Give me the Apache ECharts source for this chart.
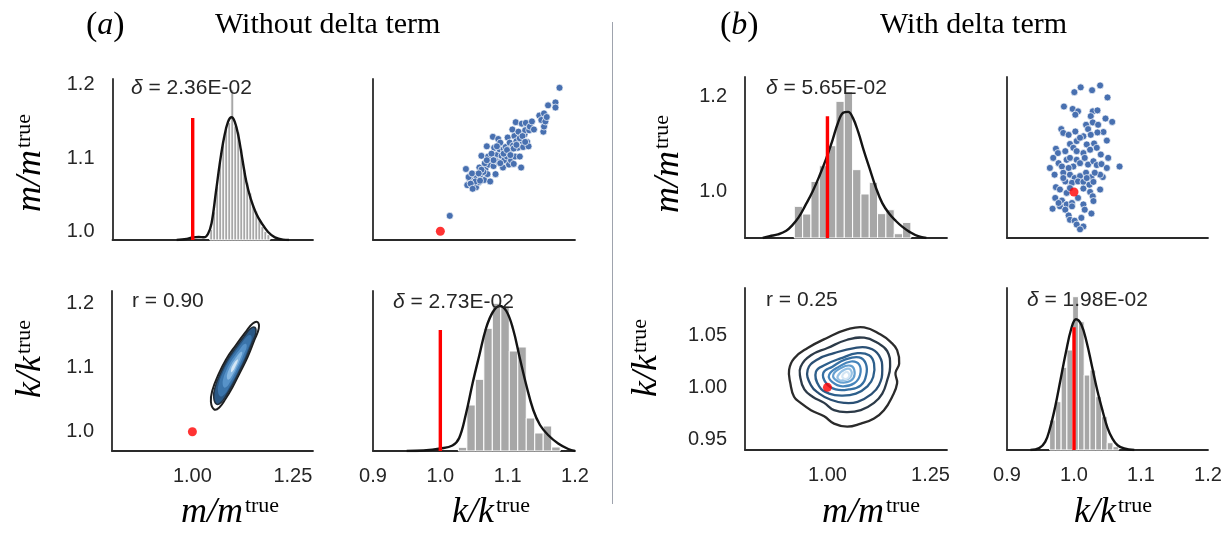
<!DOCTYPE html>
<html><head><meta charset="utf-8">
<script src="https://cdn.jsdelivr.net/npm/echarts@6/dist/echarts.min.js"></script>
<style>html,body{margin:0;padding:0;background:#fff}#c{width:1230px;height:536px}</style>
</head><body><div id="c"></div>
<script>
// ===================== DATA =====================
// tick labels
const ticksM_A = [1.0, 1.1, 1.2];
const ticksK_A = [1.0, 1.1, 1.2];
const ticksM_B = [1.0, 1.2];
const ticksK_B = [0.95, 1.0, 1.05];
const ticksMx = [1.0, 1.25];
const ticksKx = [0.9, 1.0, 1.1, 1.2];
const trueValue = [1.0, 1.0];

// annotation values
const statsA = ['2.36E-02', '0.90', '2.73E-02'];
const statsB = ['5.65E-02', '0.25', '1.98E-02'];

// ---- (a) without delta term ----
const aHistMWidth = 0.0075;
const aHistMCenters = [1.04625,1.05375,1.06125,1.06875,1.07625,1.08375,1.09125,1.09875,1.10625,1.11375,1.12125,1.12875,1.13625,1.14375,1.15125,1.15875,1.16625,1.17375,1.18125,1.18875];
const aHistMDens = [1.6,4.2,8.0,11.5,14.6,16.8,17.5,22.4,17.0,16.1,13.6,10.5,8.6,7.0,5.2,4.3,3.0,2.0,1.3,0.8];
const aKdeM = [[0.96,0],[0.985,0.15],[1.0,0.4],[1.015,0.45],[1.028,0.4],[1.038,0.9],[1.047,2.5],[1.058,7.2],[1.068,11.6],[1.078,15.2],[1.088,17.6],[1.097,18.3],[1.105,17.6],[1.114,15.5],[1.124,12.0],[1.134,8.6],[1.145,6.1],[1.158,4.0],[1.172,2.5],[1.188,1.2],[1.205,0.4],[1.225,0.05],[1.24,0]];
const aRedM = 18.2;

const aHistKWidth = 0.0126;
const aHistKCenters = [1.0331,1.0457,1.0583,1.0709,1.0835,1.0961,1.1087,1.1213,1.1339,1.1465,1.1591,1.1717];
const aHistKDens = [0.37,4.6,7.17,12.27,14.77,14.5,10.0,10.4,3.3,1.8,2.5,0.4];
const aKdeK = [[0.95,0],[0.975,0.05],[1.0,0.25],[1.018,0.55],[1.028,1.3],[1.038,3.7],[1.048,6.8],[1.058,9.6],[1.068,12.3],[1.078,13.9],[1.088,14.5],[1.098,14.0],[1.108,12.2],[1.118,9.3],[1.128,6.5],[1.138,4.1],[1.148,2.6],[1.16,1.6],[1.175,0.75],[1.19,0.2],[1.2,0]];
const aRedK = 12.1;

// scatter: [k, m]
const aScatter = [[1.014,1.021],[1.038,1.085],[1.040,1.063],[1.043,1.072],[1.047,1.073],[1.050,1.078],[1.053,1.060],[1.054,1.073],[1.057,1.067],[1.058,1.087],[1.061,1.103],[1.065,1.070],[1.067,1.085],[1.069,1.116],[1.070,1.078],[1.072,1.091],[1.074,1.068],[1.075,1.099],[1.078,1.129],[1.079,1.089],[1.080,1.114],[1.082,1.078],[1.084,1.104],[1.085,1.095],[1.086,1.126],[1.088,1.112],[1.089,1.121],[1.091,1.103],[1.093,1.087],[1.094,1.112],[1.095,1.097],[1.097,1.115],[1.099,1.102],[1.100,1.128],[1.102,1.091],[1.103,1.121],[1.104,1.111],[1.105,1.097],[1.107,1.139],[1.108,1.117],[1.109,1.092],[1.110,1.130],[1.111,1.102],[1.112,1.149],[1.113,1.123],[1.115,1.114],[1.116,1.136],[1.118,1.102],[1.120,1.087],[1.121,1.147],[1.122,1.123],[1.123,1.115],[1.125,1.132],[1.126,1.138],[1.127,1.148],[1.129,1.122],[1.131,1.116],[1.132,1.138],[1.133,1.143],[1.136,1.150],[1.139,1.139],[1.147,1.158],[1.150,1.152],[1.153,1.136],[1.154,1.143],[1.154,1.161],[1.156,1.150],[1.158,1.156],[1.160,1.172],[1.171,1.176],[1.171,1.169],[1.177,1.196],[1.042,1.074],[1.047,1.079],[1.059,1.077],[1.064,1.081],[1.066,1.093],[1.071,1.102],[1.076,1.106],[1.081,1.097],[1.089,1.093],[1.094,1.106],[1.099,1.111],[1.104,1.104],[1.109,1.113],[1.113,1.118],[1.118,1.127],[1.122,1.130],[1.126,1.122],[1.084,1.116],[1.079,1.097],[1.069,1.097],[1.061,1.084],[1.057,1.079],[1.052,1.068],[1.045,1.065],[1.048,1.058],[1.059,1.069]];

// KDE contour vertices [m, k], outer to inner
const aContourOuter = [[1.054,1.035],[1.046,1.047],[1.050,1.065],[1.0625,1.086],[1.083,1.112],[1.108,1.135],[1.133,1.156],[1.150,1.169],[1.1625,1.171],[1.165,1.161],[1.154,1.143],[1.1375,1.117],[1.117,1.091],[1.100,1.070],[1.083,1.052],[1.067,1.038]];
const aContourL1 = [[1.060,1.043],[1.053,1.054],[1.0565,1.0696],[1.0675,1.088],[1.0856,1.1109],[1.1076,1.1312],[1.1296,1.1496],[1.1445,1.1611],[1.1555,1.1628],[1.1577,1.1540],[1.1481,1.1382],[1.1335,1.1153],[1.1155,1.0924],[1.1005,1.074],[1.0856,1.0581],[1.0715,1.0458]];
const aContourL2 = [[1.0691,1.0554],[1.0635,1.0638],[1.0663,1.0764],[1.0751,1.0911],[1.0894,1.1093],[1.1070,1.1254],[1.1245,1.1401],[1.1364,1.1492],[1.1451,1.1506],[1.1469,1.1436],[1.1392,1.131],[1.1276,1.1128],[1.1133,1.0946],[1.1014,1.0799],[1.0894,1.0673],[1.0783,1.0575]];
const aContourL3 = [[1.0793,1.069],[1.0753,1.075],[1.0773,1.084],[1.0835,1.0945],[1.0938,1.1075],[1.1063,1.119],[1.1188,1.1295],[1.1273,1.136],[1.1335,1.137],[1.1348,1.132],[1.1293,1.123],[1.121,1.110],[1.1108,1.097],[1.1023,1.0865],[1.0938,1.0775],[1.0858,1.0705]];
const aContourL4 = [[1.0883,1.0812],[1.0858,1.0851],[1.0871,1.0908],[1.091,1.0976],[1.0976,1.1059],[1.1056,1.1132],[1.1136,1.12],[1.1191,1.1241],[1.1231,1.1248],[1.1239,1.1216],[1.1203,1.1158],[1.1151,1.1075],[1.1085,1.0992],[1.1031,1.0924],[1.0976,1.0867],[1.0925,1.0822]];
const aContourL5 = [[1.097,1.0928],[1.0963,1.0973],[1.1013,1.1044],[1.1088,1.111],[1.1132,1.1132],[1.1119,1.109],[1.1064,1.1012],[1.1013,1.0954]];

// ---- (b) with delta term ----
const bHistMWidth = 0.0202;
const bHistMCenters = [0.9297,0.9499,0.9701,0.9903,1.0105,1.0307,1.0509,1.0711,1.0913,1.1115,1.1317,1.1519,1.1721,1.1923];
const bHistMDens = [1.77,1.34,3.16,4.04,5.16,7.64,8.19,3.82,2.46,3.11,1.36,1.58,0.24,0.87];
const bKdeM = [[0.843,0],[0.86,0.1],[0.88,0.2],[0.9,0.4],[0.915,0.72],[0.93,1.15],[0.947,1.85],[0.964,2.6],[0.98,3.44],[0.996,4.38],[1.012,5.45],[1.025,6.4],[1.038,7.0],[1.05,7.05],[1.062,6.7],[1.075,5.9],[1.088,4.9],[1.102,3.9],[1.117,2.85],[1.133,1.95],[1.15,1.35],[1.166,0.95],[1.182,0.62],[1.2,0.33],[1.22,0.1],[1.24,0]];
const bRedM = 6.8;

const bHistKWidth = 0.0086;
const bHistKCenters = [0.9679,0.9765,0.9851,0.9937,1.0023,1.0109,1.0195,1.0281,1.0367,1.0453,1.0539,1.0625];
const bHistKDens = [4.07,6.56,11.23,13.58,20.82,17.42,10.18,10.86,7.24,4.52,0.99,0.45];
const bKdeK = [[0.935,0],[0.948,0.25],[0.957,1.1],[0.964,2.9],[0.972,5.9],[0.98,9.6],[0.988,13.3],[0.996,16.5],[1.003,17.75],[1.011,17.0],[1.019,14.6],[1.027,11.3],[1.035,8.0],[1.043,5.2],[1.05,3.0],[1.057,1.6],[1.065,0.65],[1.075,0.2],[1.09,0]];
const bRedK = 16.66;

const bScatter = [[1.0005,1.208],[1.010,1.218],[1.027,1.212],[1.039,1.222],[1.050,1.197],[0.985,1.178],[0.998,1.173],[1.006,1.168],[1.002,1.161],[1.028,1.168],[1.035,1.170],[1.025,1.158],[1.018,1.140],[1.028,1.145],[1.036,1.140],[1.047,1.153],[1.057,1.146],[0.981,1.131],[0.984,1.123],[1.002,1.126],[1.021,1.131],[1.044,1.125],[1.035,1.124],[0.992,1.119],[1.014,1.116],[1.025,1.119],[1.049,1.107],[0.973,1.090],[0.976,1.081],[0.994,1.100],[1.004,1.106],[1.009,1.113],[1.019,1.099],[1.030,1.101],[0.987,1.085],[0.999,1.092],[1.014,1.081],[1.024,1.088],[1.034,1.092],[1.040,1.078],[1.051,1.071],[1.068,1.053],[0.969,1.071],[0.964,1.050],[0.971,1.036],[0.977,1.060],[0.982,1.053],[0.989,1.067],[0.994,1.071],[1.004,1.067],[1.009,1.060],[1.016,1.071],[1.021,1.057],[1.029,1.064],[1.034,1.056],[1.041,1.058],[1.049,1.050],[1.043,1.031],[1.039,1.036],[0.984,1.040],[0.994,1.036],[1.001,1.029],[1.009,1.033],[1.018,1.040],[1.026,1.031],[1.031,1.040],[0.987,1.022],[0.997,1.019],[1.006,1.022],[1.014,1.021],[1.023,1.015],[1.029,1.021],[1.039,1.005],[0.973,1.010],[0.979,1.005],[0.989,0.998],[0.994,1.008],[1.014,1.007],[1.024,1.000],[1.028,0.991],[0.972,0.9875],[0.982,0.982],[0.989,0.974],[0.997,0.977],[1.006,0.9875],[1.014,0.974],[1.029,0.981],[0.968,0.965],[0.979,0.970],[0.987,0.963],[0.997,0.970],[1.016,0.963],[1.026,0.955],[0.992,0.951],[0.994,0.942],[1.001,0.940],[1.011,0.946],[1.004,0.932],[1.014,0.928],[1.009,0.922],[0.977,0.977],[0.984,1.029],[0.999,1.053],[1.004,1.085],[0.992,1.050],[1.019,1.029]];

const bContour1 = [[0.907,1.017],[0.919,1.028],[0.952,1.038],[1.000,1.048],[1.048,1.056],[1.089,1.058],[1.129,1.051],[1.153,1.044],[1.169,1.036],[1.174,1.023],[1.165,1.014],[1.169,1.004],[1.157,0.991],[1.137,0.978],[1.113,0.970],[1.081,0.965],[1.048,0.962],[1.016,0.965],[0.992,0.972],[0.960,0.978],[0.935,0.985],[0.919,0.991],[0.910,1.004]];
const bContour2 = [[0.935,1.020],[0.960,1.031],[1.000,1.038],[1.048,1.046],[1.089,1.048],[1.121,1.043],[1.145,1.035],[1.152,1.020],[1.145,1.007],[1.133,0.994],[1.113,0.985],[1.081,0.978],[1.048,0.976],[1.016,0.978],[0.992,0.985],[0.964,0.991],[0.944,0.998],[0.934,1.010]];
const bContour3 = [[0.952,1.017],[0.976,1.027],[1.016,1.033],[1.065,1.038],[1.101,1.038],[1.125,1.031],[1.133,1.017],[1.125,1.002],[1.105,0.993],[1.073,0.986],[1.040,0.985],[1.008,0.988],[0.980,0.994],[0.960,1.002]];
const bContour4 = [[0.972,1.015],[0.996,1.022],[1.032,1.028],[1.073,1.033],[1.101,1.031],[1.113,1.023],[1.111,1.010],[1.097,1.001],[1.069,0.994],[1.036,0.992],[1.004,0.994],[0.980,1.001]];
const bContour5 = [[0.990,1.014],[1.012,1.020],[1.044,1.027],[1.077,1.029],[1.093,1.023],[1.094,1.012],[1.081,1.002],[1.052,0.998],[1.020,0.998],[0.997,1.004]];
const bContour6 = [[1.004,1.012],[1.028,1.020],[1.057,1.025],[1.077,1.022],[1.079,1.012],[1.065,1.004],[1.036,1.001],[1.012,1.005]];
const bContour7 = [[1.014,1.012],[1.034,1.019],[1.055,1.021],[1.065,1.017],[1.063,1.009],[1.047,1.005],[1.025,1.006]];
const bContour8 = [[1.025,1.011],[1.041,1.017],[1.056,1.017],[1.056,1.010],[1.041,1.007],[1.029,1.007]];
const bContour9 = [[1.036,1.011],[1.047,1.015],[1.053,1.011],[1.043,1.008]];

// ===================== CHART =====================
const SANS = '"Liberation Sans", Arial, sans-serif';
const SERIF = '"Liberation Serif", "Times New Roman", serif';
const AXLINE = {color: '#2a2a2a', width: 1.8};
const TXT = '#262626';

const grids = [
  {left: 112.5, top: 79, width: 200.5, height: 161},
  {left: 373, top: 79, width: 202, height: 161},
  {left: 112, top: 291, width: 201, height: 160},
  {left: 373, top: 291, width: 202, height: 160},
  {left: 745, top: 77, width: 202, height: 161},
  {left: 1007, top: 77, width: 201, height: 161},
  {left: 745, top: 288, width: 202, height: 162},
  {left: 1007, top: 288, width: 201, height: 162}
].map(g => Object.assign({outerBoundsMode: 'none', containLabel: false}, g));

function lbl(ticks, digits, margin) {
  if (!ticks) return {show: false};
  return {show: true, customValues: ticks, formatter: v => Number(v).toFixed(digits),
    fontFamily: SANS, fontSize: 20, color: TXT, margin: margin, showMinLabel: true, showMaxLabel: true};
}
function xAx(g, min, max, ticks, digits) {
  return {type: 'value', gridIndex: g, min: min, max: max, splitLine: {show: false},
    axisTick: {show: false}, axisLine: {show: true, onZero: false, lineStyle: AXLINE},
    axisLabel: lbl(ticks, digits, 15)};
}
function yAx(g, min, max, ticks, digits, hidden) {
  return {type: 'value', gridIndex: g, min: min, max: max, show: !hidden, splitLine: {show: false},
    axisTick: {show: false}, axisLine: {show: true, onZero: false, lineStyle: AXLINE},
    axisLabel: lbl(ticks, digits, 18)};
}

const xAxis = [
  xAx(0, 0.8, 1.3, null),
  xAx(1, 0.9, 1.2, null),
  xAx(2, 0.8, 1.3, ticksMx, 2),
  xAx(3, 0.9, 1.2, ticksKx, 1),
  xAx(4, 0.8, 1.29, null),
  xAx(5, 0.9, 1.2, null),
  xAx(6, 0.8, 1.29, ticksMx, 2),
  xAx(7, 0.9, 1.2, ticksKx, 1)
];
const yAxis = [
  yAx(0, 0.988, 1.208, ticksM_A, 1),
  yAx(1, 0.988, 1.208, null),
  yAx(2, 0.970, 1.2196, ticksK_A, 1),
  yAx(3, 0, 16, null),
  yAx(4, 0.904, 1.2396, ticksM_B, 1),
  yAx(5, 0.904, 1.2396, null),
  yAx(6, 0.9395, 1.096, ticksK_B, 2),
  yAx(7, 0, 22, null),
  yAx(0, 0, 24, null, 0, true),
  yAx(4, 0, 9, null, 0, true)
];

function histSeries(xi, yi, centers, dens, w) {
  return {type: 'custom', coordinateSystem: 'cartesian2d', xAxisIndex: xi, yAxisIndex: yi, z: 2, silent: true,
    data: centers.map((c, i) => [c, dens[i]]),
    renderItem: function (params, api) {
      const c = api.value(0), h = api.value(1);
      const p0 = api.coord([c - w / 2, 0]), p1 = api.coord([c + w / 2, h]);
      return {type: 'rect', shape: {x: p0[0], y: p1[1], width: p1[0] - p0[0], height: p0[1] - p1[1]},
        style: {fill: '#a7a7a7', stroke: '#ffffff', lineWidth: 1}};
    }};
}
function kdeSeries(xi, yi, pts) {
  return {type: 'line', xAxisIndex: xi, yAxisIndex: yi, data: pts, smooth: 0.4,
    symbol: 'none', z: 4, silent: true, lineStyle: {color: '#141414', width: 2.4}};
}
function redLine(xi, yi, x, h) {
  return {type: 'line', xAxisIndex: xi, yAxisIndex: yi, data: [[x, 0], [x, h]], symbol: 'none', z: 5,
    silent: true, lineStyle: {color: '#ff0000', width: 3.4}};
}
function scatterSeries(gi, pts) {
  return {type: 'scatter', xAxisIndex: gi, yAxisIndex: gi, data: pts, symbolSize: 7, z: 3, silent: true,
    itemStyle: {color: '#4870b0', borderColor: '#ffffff', borderWidth: 0.7, opacity: 1}};
}
function trueDot(gi, pt) {
  return {type: 'scatter', xAxisIndex: gi, yAxisIndex: gi, data: [pt], symbolSize: 9, z: 8, silent: true,
    itemStyle: {color: '#ff0000', borderWidth: 0}};
}
function polySeries(gi, pts, stroke, fill, lw, z) {
  return {type: 'custom', coordinateSystem: 'cartesian2d', xAxisIndex: gi, yAxisIndex: gi, z: z, silent: true,
    data: [pts[0]],
    renderItem: function (params, api) {
      const points = pts.map(p => api.coord(p));
      return {type: 'polygon', shape: {points: points, smooth: 0.45},
        style: {fill: fill || 'none', stroke: stroke || 'none', lineWidth: lw || 0}};
    }};
}

const series = [
  // (a) TL
  histSeries(0, 8, aHistMCenters, aHistMDens, aHistMWidth),
  kdeSeries(0, 8, aKdeM),
  redLine(0, 8, trueValue[0], aRedM),
  // (a) TR
  scatterSeries(1, aScatter),
  trueDot(1, [trueValue[1], trueValue[0]]),
  // (a) BL
  polySeries(2, aContourOuter, '#1e1e1e', null, 2, 2),
  polySeries(2, aContourL1, '#22303e', '#2a5783', 1.5, 3),
  polySeries(2, aContourL2, null, '#3b74aa', 0, 4),
  polySeries(2, aContourL3, null, '#5792c8', 0, 5),
  polySeries(2, aContourL4, null, '#88b8e1', 0, 6),
  polySeries(2, aContourL5, null, '#d4e6f5', 0, 7),
  trueDot(2, trueValue),
  // (a) BR
  histSeries(3, 3, aHistKCenters, aHistKDens, aHistKWidth),
  kdeSeries(3, 3, aKdeK),
  redLine(3, 3, trueValue[1], aRedK),
  // (b) TL
  histSeries(4, 9, bHistMCenters, bHistMDens, bHistMWidth),
  kdeSeries(4, 9, bKdeM),
  redLine(4, 9, trueValue[0], bRedM),
  // (b) TR
  scatterSeries(5, bScatter),
  trueDot(5, [trueValue[1], trueValue[0]]),
  // (b) BL
  polySeries(6, bContour1, '#2b2b2b', null, 2.3, 2),
  polySeries(6, bContour2, '#2c3a48', null, 2.3, 2),
  polySeries(6, bContour3, '#2a5075', null, 2.3, 2),
  polySeries(6, bContour4, '#2d5f8b', null, 2.3, 2),
  polySeries(6, bContour5, '#356fa2', null, 2.3, 2),
  polySeries(6, bContour6, '#4584bb', null, 2.2, 2),
  polySeries(6, bContour7, '#649fd0', null, 2.2, 2),
  polySeries(6, bContour8, '#97c2e5', null, 2.2, 2),
  polySeries(6, bContour9, '#d3e5f4', null, 2.2, 2),
  trueDot(6, trueValue),
  // (b) BR
  histSeries(7, 7, bHistKCenters, bHistKDens, bHistKWidth),
  kdeSeries(7, 7, bKdeK),
  redLine(7, 7, trueValue[1], bRedK)
];

// text helpers
function annot(x, y, isDelta, val) {
  const t = isDelta ? '{d|δ}{n| = ' + val + '}' : '{n|r = ' + val + '}';
  return {type: 'text', x: x, y: y, z: 50, silent: true, style: {text: t, align: 'left', verticalAlign: 'middle',
    rich: {d: {fontFamily: SANS, fontStyle: 'italic', fontSize: 21, fill: TXT},
           n: {fontFamily: SANS, fontSize: 21, fill: TXT}}}};
}
function mathLabel(x, y, letter, rot) {
  return {type: 'text', x: x, y: y, rotation: rot ? Math.PI / 2 : 0, z: 50, silent: true,
    style: {text: '{i|' + letter + '/' + letter + '}{s|true}', align: 'center', verticalAlign: 'middle',
      rich: {i: {fontFamily: SERIF, fontStyle: 'italic', fontSize: 36, fill: '#000', verticalAlign: 'bottom'},
             s: {fontFamily: SERIF, fontSize: 22, fill: '#000', verticalAlign: 'top', padding: [0, 0, 0, 2]}}}};
}
function panelTag(x, y, letter) {
  return {type: 'text', x: x, y: y, z: 50, silent: true, style: {text: '{p|(}{a|' + letter + '}{p|)}', align: 'left', verticalAlign: 'middle',
    rich: {p: {fontFamily: SERIF, fontSize: 34, fill: '#000'}, a: {fontFamily: SERIF, fontStyle: 'italic', fontSize: 32, fill: '#000'}}}};
}

const graphic = [
  {type: 'line', silent: true, shape: {x1: 612.5, y1: 22, x2: 612.5, y2: 504}, style: {stroke: '#9ea3ad', lineWidth: 1}},
  panelTag(86, 26, 'a'),
  {type: 'text', x: 215, y: 25, silent: true, style: {text: 'Without delta term', font: '30px ' + SERIF, fill: '#000', align: 'left', verticalAlign: 'middle'}},
  panelTag(720, 26, 'b'),
  {type: 'text', x: 880, y: 25, silent: true, style: {text: 'With delta term', font: '30px ' + SERIF, fill: '#000', align: 'left', verticalAlign: 'middle'}},
  annot(131, 88, true, statsA[0]),
  annot(132, 301, false, statsA[1]),
  annot(393, 302, true, statsA[2]),
  annot(766, 88, true, statsB[0]),
  annot(766, 300, false, statsB[1]),
  annot(1027, 300, true, statsB[2]),
  mathLabel(31, 163, 'm', true),
  mathLabel(31, 359, 'k', true),
  mathLabel(669, 164, 'm', true),
  mathLabel(647, 358, 'k', true),
  mathLabel(230, 513, 'm', false),
  mathLabel(491, 513, 'k', false),
  mathLabel(871, 513, 'm', false),
  mathLabel(1113, 513, 'k', false)
];

const chart = echarts.init(document.getElementById('c'), null, {renderer: 'canvas'});
chart.setOption({
  animation: false,
  backgroundColor: '#ffffff',
  grid: grids,
  xAxis: xAxis,
  yAxis: yAxis,
  series: series,
  graphic: graphic
});
</script></body></html>
